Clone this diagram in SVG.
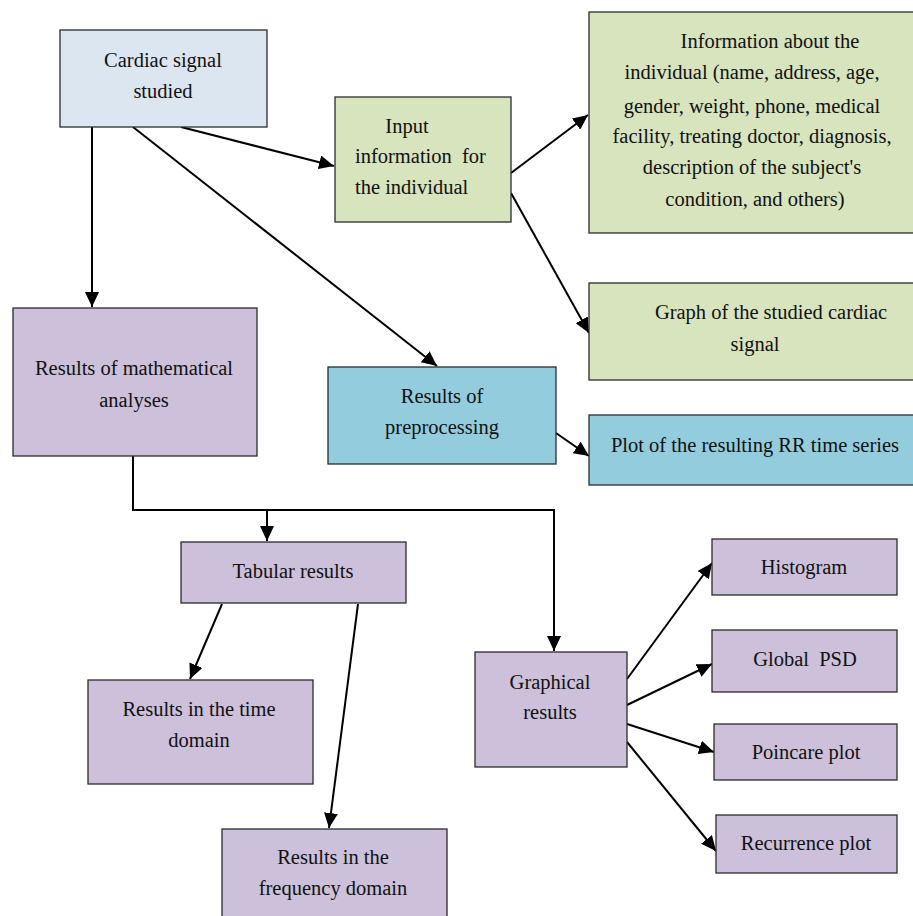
<svg xmlns="http://www.w3.org/2000/svg" width="913" height="916" viewBox="0 0 913 916">
<style>
rect{stroke:#2b2b2b;stroke-width:1.3}
.b{fill:#dce6f1}.g{fill:#d7e4bd}.c{fill:#93cddd}.p{fill:#ccc0da}
text{font-family:"Liberation Serif","Times New Roman",serif;font-size:20.5px;fill:#111;text-anchor:middle;white-space:pre}
.l{text-anchor:start}
#conn line,#conn polyline{stroke:#000;stroke-width:2;fill:none}
</style>
<defs>
<marker id="ah" markerUnits="userSpaceOnUse" markerWidth="16" markerHeight="14" refX="15" refY="7" orient="auto">
<path d="M0,0 L15,7 L0,14 Z" fill="#000"/>
</marker>
</defs>
<rect width="913" height="916" fill="#fff" style="stroke:none"/>
<g id="conn">
<line x1="92" y1="127" x2="92" y2="307" marker-end="url(#ah)"/>
<line x1="181" y1="127" x2="334" y2="166" marker-end="url(#ah)"/>
<line x1="133" y1="127" x2="437" y2="366" marker-end="url(#ah)"/>
<line x1="511" y1="173" x2="588" y2="115" marker-end="url(#ah)"/>
<line x1="511" y1="193" x2="589" y2="333" marker-end="url(#ah)"/>
<line x1="556" y1="433" x2="589" y2="456" marker-end="url(#ah)"/>
<polyline points="133,456 133,510 554,510 554,651" marker-end="url(#ah)"/>
<line x1="267" y1="510" x2="267" y2="541" marker-end="url(#ah)"/>
<line x1="222" y1="604" x2="190" y2="679" marker-end="url(#ah)"/>
<line x1="358" y1="604" x2="329" y2="828" marker-end="url(#ah)"/>
<line x1="627" y1="679" x2="712" y2="563" marker-end="url(#ah)"/>
<line x1="627" y1="705" x2="712" y2="664" marker-end="url(#ah)"/>
<line x1="627" y1="724" x2="714" y2="752" marker-end="url(#ah)"/>
<line x1="627" y1="742" x2="716" y2="851" marker-end="url(#ah)"/>
</g>
<g id="cardiac"><rect class="b" x="60" y="30" width="207" height="97"/>
<text x="163" y="67">Cardiac signal</text><text x="163" y="98">studied</text></g>
<g id="input"><rect class="g" x="335" y="97" width="176" height="125"/>
<text x="407" y="133">Input</text><text class="l" x="355" y="163">information  for</text><text class="l" x="355" y="194">the individual</text></g>
<g id="info"><rect class="g" x="589" y="12" width="330" height="221"/>
<text x="770" y="48">Information about the</text>
<text x="752" y="79">individual (name, address, age,</text>
<text x="752" y="113">gender, weight, phone, medical</text>
<text x="752" y="143">facility, treating doctor, diagnosis,</text>
<text x="752" y="174">description of the subject's</text>
<text x="755" y="206">condition, and others)</text></g>
<g id="graph"><rect class="g" x="589" y="283" width="330" height="97"/>
<text x="771" y="319">Graph of the studied cardiac</text><text x="755" y="351">signal</text></g>
<g id="math"><rect class="p" x="13" y="308" width="244" height="148"/>
<text x="134" y="375">Results of mathematical</text><text x="134" y="407">analyses</text></g>
<g id="prep"><rect class="c" x="328" y="367" width="228" height="97"/>
<text x="442" y="403">Results of</text><text x="442" y="434">preprocessing</text></g>
<g id="rr"><rect class="c" x="589" y="415" width="330" height="70"/>
<text x="755" y="452">Plot of the resulting RR time series</text></g>
<g id="tab"><rect class="p" x="181" y="542" width="225" height="61"/>
<text x="293" y="578">Tabular results</text></g>
<g id="time"><rect class="p" x="88" y="680" width="225" height="104"/>
<text x="199" y="716">Results in the time</text><text x="199" y="747">domain</text></g>
<g id="freq"><rect class="p" x="222" y="829" width="225" height="95"/>
<text x="333" y="864">Results in the</text><text x="333" y="895">frequency domain</text></g>
<g id="graphical"><rect class="p" x="475" y="652" width="152" height="115"/>
<text x="550" y="689">Graphical</text><text x="550" y="719">results</text></g>
<g id="hist"><rect class="p" x="712" y="539" width="185" height="56"/>
<text x="804" y="574">Histogram</text></g>
<g id="psd"><rect class="p" x="712" y="630" width="185" height="62"/>
<text x="805" y="666">Global  PSD</text></g>
<g id="poincare"><rect class="p" x="714" y="724" width="183" height="56"/>
<text x="806" y="759">Poincare plot</text></g>
<g id="recurrence"><rect class="p" x="716" y="815" width="181" height="58"/>
<text x="806" y="850">Recurrence plot</text></g>
</svg>
